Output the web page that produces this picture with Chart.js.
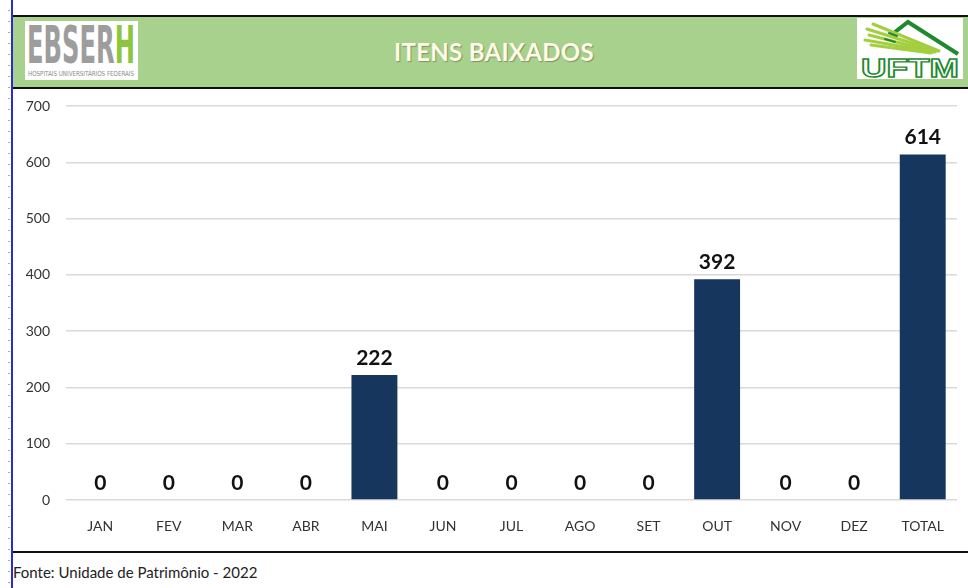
<!DOCTYPE html>
<html>
<head>
<meta charset="utf-8">
<script src="https://cdn.jsdelivr.net/npm/chart.js@4/dist/chart.umd.min.js"></script>
<style>
  html, body { margin: 0; padding: 0; background: #fff; width: 968px; height: 588px; overflow: hidden; position: relative; font-family: Lato, "Open Sans", sans-serif; }
  .abs { position: absolute; }
  #ruler { left: 8px; top: 0; width: 2px; height: 588px; background: repeating-linear-gradient(to bottom, transparent 0 10px, #aaa 10px 11px); }
  #blue { left: 11px; top: 0; width: 2px; height: 588px; background: #2b2bd6; }
  #header { left: 13px; top: 15px; width: 955px; height: 70px; background: #a9d18e; border-top: 2px solid #111; border-bottom: 2px solid #111; }
  #title { left: 13px; top: 15px; width: 962px; height: 74px; line-height: 74px; text-align: center; color: #fffbe8; font-weight: bold; font-size: 24px; font-family: Lato, sans-serif; text-shadow: 1px 1px 1px rgba(90,110,60,0.6); letter-spacing: 0.3px; }
  #ebserh { left: 25px; top: 21px; width: 113px; height: 59px; background: #fff; }
  #uftm { left: 857px; top: 18px; width: 106px; height: 61px; background: #fff; }
  #chartbox { left: 13px; top: 89px; width: 955px; height: 462px; }
  #bottomline { left: 13px; top: 551px; width: 955px; height: 2px; background: #111; }
  #footer { left: 13px; top: 563px; font-family: Lato, "Open Sans", sans-serif; font-size: 15px; color: #222; }
</style>
</head>
<body>
<div id="ruler" class="abs"></div>
<div id="blue" class="abs"></div>
<div id="header" class="abs"></div>
<div id="title" class="abs">ITENS BAIXADOS</div>
<div id="ebserh" class="abs">
  <svg width="113" height="59" viewBox="0 0 113 59">
    <text x="2" y="42" font-family="DejaVu Sans Condensed, Liberation Sans, sans-serif" font-weight="bold" font-size="52" textLength="108" lengthAdjust="spacingAndGlyphs"><tspan fill="#9d9d9d">EBSER</tspan><tspan fill="#8cc63e">H</tspan></text>
    <text x="3" y="55" font-family="DejaVu Sans Condensed, Liberation Sans, sans-serif" font-size="7" fill="#8a8a8a" textLength="106" lengthAdjust="spacingAndGlyphs">HOSPITAIS UNIVERSITÁRIOS FEDERAIS</text>
  </svg>
</div>
<div id="uftm" class="abs">
  <svg width="106" height="61" viewBox="0 0 106 61">
    <polyline points="38,14 51,4 101,36" fill="none" stroke="#1e8a2e" stroke-width="4" stroke-linejoin="miter"/>
    <g stroke="#a3cf3e" stroke-width="3" stroke-linecap="round" fill="none">
      <line x1="16" y1="6" x2="82" y2="33"/>
      <line x1="10" y1="11" x2="80" y2="33"/>
      <line x1="12" y1="17" x2="78" y2="34"/>
      <line x1="8" y1="22" x2="76" y2="34"/>
      <line x1="14" y1="27" x2="74" y2="35"/>
    </g>
    <g stroke="#1e8a2e" stroke-width="2" stroke-linecap="round">
      <line x1="32" y1="15" x2="40" y2="18"/>
      <line x1="28" y1="21" x2="38" y2="24"/>
    </g>
    <text x="53" y="59" text-anchor="middle" font-family="Liberation Sans, sans-serif" font-weight="bold" font-size="26" fill="#ffffff" stroke="#1e8a2e" stroke-width="1.4" textLength="98" lengthAdjust="spacingAndGlyphs">UFTM</text>
  </svg>
</div>
<div id="chartbox" class="abs"><canvas id="c" width="955" height="462"></canvas></div>
<div id="bottomline" class="abs"></div>
<div id="footer" class="abs">Fonte: Unidade de Patrimônio - 2022</div>

<script>
const categories = ["JAN", "FEV", "MAR", "ABR", "MAI", "JUN", "JUL", "AGO", "SET", "OUT", "NOV", "DEZ", "TOTAL"];
const itensBaixados = [0, 0, 0, 0, 222, 0, 0, 0, 0, 392, 0, 0, 614];
const yTicks = [0, 100, 200, 300, 400, 500, 600, 700];

const valueLabels = {
  id: 'valueLabels',
  afterDatasetsDraw(chart) {
    const ctx = chart.ctx;
    const meta = chart.getDatasetMeta(0);
    ctx.save();
    ctx.font = 'bold 21px Lato, "Open Sans", sans-serif';
    ctx.fillStyle = '#111';
    ctx.textAlign = 'center';
    ctx.textBaseline = 'middle';
    meta.data.forEach((bar, i) => {
      ctx.fillText(String(chart.data.datasets[0].data[i]), bar.x, bar.y - 17);
    });
    ctx.restore();
  }
};

new Chart(document.getElementById('c'), {
  type: 'bar',
  data: {
    labels: categories,
    datasets: [{
      data: itensBaixados,
      backgroundColor: '#17365d',
      categoryPercentage: 1.0,
      barPercentage: 0.67
    }]
  },
  options: {
    responsive: false,
    animation: false,
    devicePixelRatio: 1,
    layout: { padding: { top: 17, right: 11, left: 0, bottom: 0 } },
    plugins: { legend: { display: false }, tooltip: { enabled: false }, title: { display: false } },
    scales: {
      x: {
        grid: { display: false, drawTicks: false },
        border: { display: false },
        ticks: { color: '#333', font: { family: 'Lato, "Open Sans", sans-serif', size: 14 }, padding: 18, maxRotation: 0, autoSkip: false },
        afterFit(scale) { scale.height = 51; }
      },
      y: {
        min: 0, max: 700,
        afterBuildTicks(scale) { scale.ticks = yTicks.map(v => ({ value: v })); },
        grid: { color: '#d9d9d9', lineWidth: 1.5, drawTicks: false },
        border: { display: false },
        ticks: { color: '#333', font: { family: 'Lato, "Open Sans", sans-serif', size: 14 }, padding: 16 },
        afterFit(scale) { scale.width = 53; scale.paddingTop = 8; scale.paddingBottom = 8; }
      }
    }
  },
  plugins: [valueLabels]
});
</script>
</body>
</html>
